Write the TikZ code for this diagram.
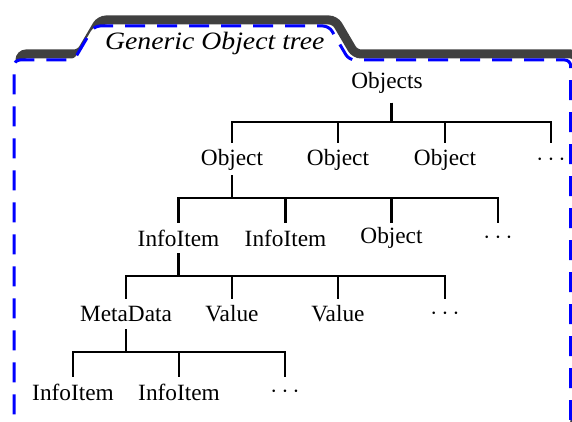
\documentclass[tikz,border=0pt]{standalone}
\usepackage{graphicx}
\usepackage{fontspec}
\setmainfont{Liberation Serif}
\definecolor{shadowgray}{HTML}{404040}
\definecolor{folderblue}{RGB}{0,0,255}
\newcommand\treeedge[2]{\draw[treeline] ([yshift=-15pt]#1.center) -- ([yshift=-38pt]#1.center) -| ([yshift=15.5pt]#2.center);}
\begin{document}
\begin{tikzpicture}[x=1pt,y=-1pt,
  lbl/.style={inner sep=4pt, font=\fontsize{23.3}{28}\selectfont},
  treeline/.style={line width=2.6pt, black},
  foldershadow/.style={shadowgray, line width=9pt, rounded corners=6pt},
  folderline/.style={folderblue, line width=3pt, dash pattern=on 20pt off 12pt, fill=white, rounded corners=6pt}]
\useasboundingbox (0,0) rectangle (572,422);
\clip (0,0) rectangle (572,422);
% folder
\draw[foldershadow, shift={(6,-6)}] (300,425) -- (14,425) -- (14,60) -- (74,60) -- (94,26) -- (329,26) -- (349,60) -- (570.7,60) -- (570.7,425) -- cycle;
\draw[folderline] (300,425) -- (14,425) -- (14,60) -- (74,60) -- (94,26) -- (329,26) -- (349,60) -- (570.7,60) -- (570.7,425) -- cycle;
\node[anchor=base, inner sep=0pt, font=\fontsize{25}{30}\selectfont\itshape] (title) at (214.7,49.3) {\scalebox{1.11}[1]{Generic Object tree}};
% tree nodes
\node[lbl] (r) at (387,83) {Objects};
\node[lbl] (a1) at (232,160) {Object};
\node[lbl] (a2) at (338,160) {Object};
\node[lbl] (a3) at (445,160) {Object};
\node[lbl] (a4) at (551,160) {$\cdots$};
\node[lbl] (b1) at (178.5,238) {InfoItem};
\node[lbl] (b2) at (285.5,238) {InfoItem};
\node[lbl] (b3) at (391.5,238) {Object};
\node[lbl] (b4) at (498,238) {$\cdots$};
\node[lbl] (c1) at (126,314) {MetaData};
\node[lbl] (c2) at (232,314) {Value};
\node[lbl] (c3) at (338,314) {Value};
\node[lbl] (c4) at (445,314) {$\cdots$};
\node[lbl] (d1) at (73,392) {InfoItem};
\node[lbl] (d2) at (179,392) {InfoItem};
\node[lbl] (d3) at (285,392) {$\cdots$};
% edges
\foreach \c in {a1,a2,a3,a4}{
  \draw[treeline] ([xshift=4.5pt,yshift=-20pt]r.center) -- ([xshift=4.5pt,yshift=-39pt]r.center) -| ([yshift=16.5pt]\c.center);
}
\foreach \c in {b1,b2,b3,b4}{\treeedge{a1}{\c}}
\foreach \c in {c1,c2,c3,c4}{\treeedge{b1}{\c}}
\foreach \c in {d1,d2,d3}{\treeedge{c1}{\c}}
\end{tikzpicture}
\end{document}
